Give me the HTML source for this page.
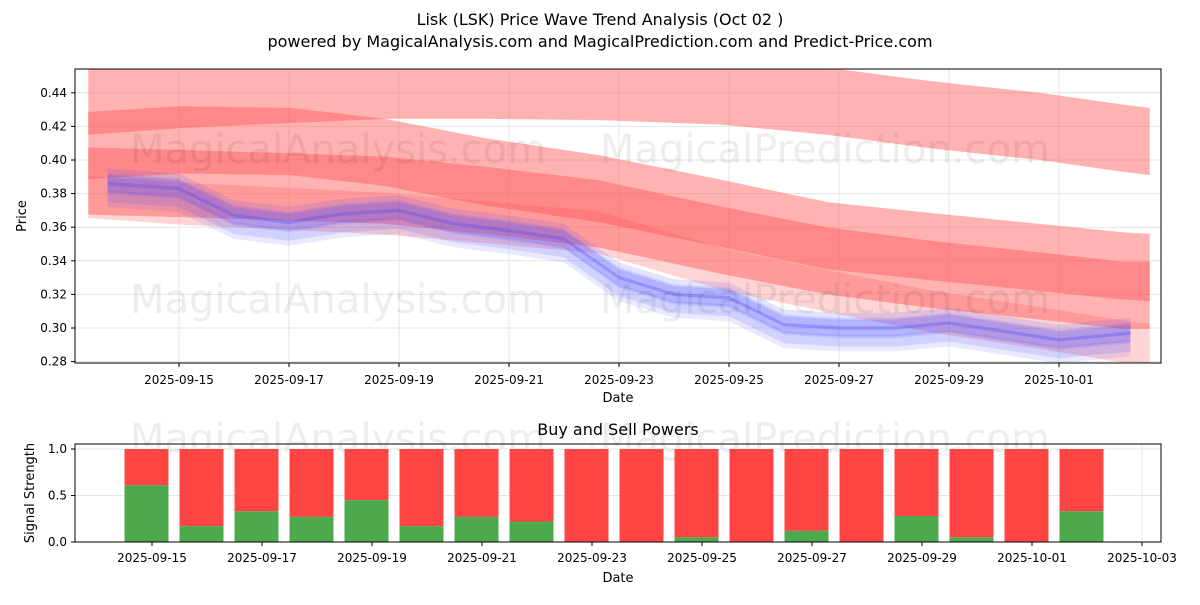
<!DOCTYPE html>
<html><head><meta charset="utf-8"><style>
body{margin:0;background:#fff;font-family:"Liberation Sans","DejaVu Sans",sans-serif}
svg text{font-family:"DejaVu Sans","Liberation Sans",sans-serif}
</style></head><body>
<svg id="chart" width="1200" height="600" xmlns="http://www.w3.org/2000/svg">
<text x="600" y="25" text-anchor="middle" font-size="16">Lisk (LSK) Price Wave Trend Analysis (Oct 02 )</text>
<text x="600" y="47" text-anchor="middle" font-size="16">powered by MagicalAnalysis.com and MagicalPrediction.com and Predict-Price.com</text>
<g id="topg"></g><g id="botg"></g>
</svg>
<script>
// ---- data ----
const priceTicks=[0.28,0.30,0.32,0.34,0.36,0.38,0.40,0.42,0.44];
const dateTicks=['2025-09-15','2025-09-17','2025-09-19','2025-09-21','2025-09-23','2025-09-25','2025-09-27','2025-09-29','2025-10-01'];
const bandDays=[-1.65,0.02,2.02,3.75,5.56,7.62,9.89,11.78,13.65,15.65,17.15,17.65];
const redA=[0.435,0.439,0.442,0.4445,0.4445,0.4438,0.441,0.435,0.427,0.420,0.413,0.411];
const redB=[0.4086,0.412,0.411,0.4045,0.393,0.383,0.368,0.355,0.3485,0.342,0.337,0.336];
const redC=[0.3875,0.386,0.384,0.382,0.376,0.368,0.352,0.340,0.332,0.325,0.3195,0.3195];
const redD=[0.378,0.374,0.371,0.368,0.363,0.357,0.335,0.322,0.310,0.300,0.292,0.290];
const redWidths=[0.04,0.04,0.04,0.025];
const priceDays=[-1.3,0,1,2,3,4,5,6,7,8,9,10,11,12,13,14,15,16,17.3];
const priceVals=[0.386,0.383,0.367,0.363,0.368,0.37,0.362,0.358,0.353,0.33,0.32,0.318,0.302,0.3,0.3,0.303,0.298,0.293,0.297];
const buyDays=[0,1,2,3,4,5,6,7,8,9,10,11,12,13,14,15,16,17];
const buyVals=[0.61,0.17,0.33,0.27,0.45,0.17,0.27,0.22,0,0,0.05,0,0.12,0,0.28,0.05,0,0.33];
const sigTicks=[0.0,0.5,1.0];
const botDateTicks=['2025-09-15','2025-09-17','2025-09-19','2025-09-21','2025-09-23','2025-09-25','2025-09-27','2025-09-29','2025-10-01','2025-10-03'];
// ---- axes ----
const NS='http://www.w3.org/2000/svg';
function mk(p,t,a){const e=document.createElementNS(NS,t);for(const k in a)e.setAttribute(k,a[k]);p.appendChild(e);return e;}
const xT=d=>179+d*55, yT=v=>328-(v-0.30)/0.02*33.6;
const xB=d=>152+d*55, yB=v=>542-v*93;
const topG=document.getElementById('topg'), botG=document.getElementById('botg');
mk(topG,'rect',{x:75,y:69,width:1086,height:294,fill:'#fff',stroke:'none'});
priceTicks.forEach(v=>{const y=yT(v);
 const g=mk(topG,'line',{x1:75,x2:1161,y1:y,y2:y,stroke:'#e5e5e5'});
 
 
 mk(topG,'line',{x1:71,x2:75,y1:y,y2:y,stroke:'#000'});
 const t=mk(topG,'text',{x:67,y:y+4,'text-anchor':'end','font-size':12});t.textContent=v.toFixed(2);
 
 });
dateTicks.forEach((d,i)=>{const x=xT(i*2);
 mk(topG,'line',{x1:x,x2:x,y1:69,y2:363,stroke:'#e5e5e5'});
 mk(topG,'line',{x1:x,x2:x,y1:363,y2:367,stroke:'#000'});
 const t=mk(topG,'text',{x:x,y:384,'text-anchor':'middle','font-size':12});t.textContent=d;
 
 });
const clipT=mk(topG,'clipPath',{id:'ct'});mk(clipT,'rect',{x:75,y:69,width:1086,height:294});
const plot=mk(topG,'g',{'clip-path':'url(#ct)'});
function band(days,vals,w,fill,op,name){
 let up=days.map((d,i)=>xT(d)+','+yT(vals[i]+w/2)), dn=days.map((d,i)=>xT(d)+','+yT(vals[i]-w/2)).reverse();
 const p=mk(plot,'polygon',{points:up.concat(dn).join(' '),fill:fill,'fill-opacity':op});
 
 }
band(bandDays,redA,redWidths[0],'#ff5555',0.45,'red-wave-band-1');
band(bandDays,redB,redWidths[1],'#ff5555',0.45,'red-wave-band-2');
band(bandDays,redC,redWidths[2],'#ff5555',0.45,'red-wave-band-3');
band(bandDays,redD,redWidths[3],'#ff5555',0.25,'red-wave-band-4');
[[0,0.012,0.15],[-0.005,0.012,0.15],[0.004,0.01,0.15],[-0.002,0.006,0.2],[-0.009,0.01,0.12],[0.002,0.006,0.2]].forEach((o,k)=>{
 band(priceDays,priceVals.map(v=>v+o[0]),o[1],'#4d4dff',o[2],'blue-wave-band-'+(k+1));});
const wm=[[130,163,'MagicalAnalysis.com'],[600,163,'MagicalPrediction.com'],[130,313,'MagicalAnalysis.com'],[600,313,'MagicalPrediction.com'],[130,452,'MagicalAnalysis.com'],[600,452,'MagicalPrediction.com']];
wm.forEach(w=>{const t=mk(topG,'text',{x:w[0],y:w[1],'font-size':40,fill:'#000','fill-opacity':0.07});t.textContent=w[2];
 
 });
mk(topG,'rect',{x:75,y:69,width:1086,height:294,fill:'none',stroke:'#000'});
let t=mk(topG,'text',{x:618,y:402,'text-anchor':'middle','font-size':13});t.textContent='Date';


t=mk(topG,'text',{x:26,y:216,'text-anchor':'middle','font-size':13,transform:'rotate(-90 26 216)'});t.textContent='Price';


t=mk(botG,'text',{x:618,y:435,'text-anchor':'middle','font-size':16});t.textContent='Buy and Sell Powers';


sigTicks.forEach(v=>{const y=yB(v);
 mk(botG,'line',{x1:75,x2:1161,y1:y,y2:y,stroke:'#e5e5e5'});
 mk(botG,'line',{x1:71,x2:75,y1:y,y2:y,stroke:'#000'});
 const t=mk(botG,'text',{x:67,y:y+4,'text-anchor':'end','font-size':12});t.textContent=v.toFixed(1);
 
 });
botDateTicks.forEach((d,i)=>{const x=xB(i*2);
 mk(botG,'line',{x1:x,x2:x,y1:444,y2:542,stroke:'#e5e5e5'});
 mk(botG,'line',{x1:x,x2:x,y1:542,y2:546,stroke:'#000'});
 const t=mk(botG,'text',{x:x,y:562,'text-anchor':'middle','font-size':12});t.textContent=d;
 
 });
buyDays.forEach((d,i)=>{const x=xB(d-0.1)-22,b=buyVals[i];
 const s=mk(botG,'rect',{x:x,y:yB(1),width:44,height:yB(b)-yB(1),fill:'#ff4444'});
 
 
 const g=mk(botG,'rect',{x:x,y:yB(b),width:44,height:yB(0)-yB(b),fill:'#4caa4c'});
 
 });
mk(botG,'rect',{x:75,y:444,width:1086,height:98,fill:'none',stroke:'#000'});
t=mk(botG,'text',{x:618,y:582,'text-anchor':'middle','font-size':13});t.textContent='Date';


t=mk(botG,'text',{x:34,y:493,'text-anchor':'middle','font-size':13,transform:'rotate(-90 34 493)'});t.textContent='Signal Strength';


</script>
</body></html>
